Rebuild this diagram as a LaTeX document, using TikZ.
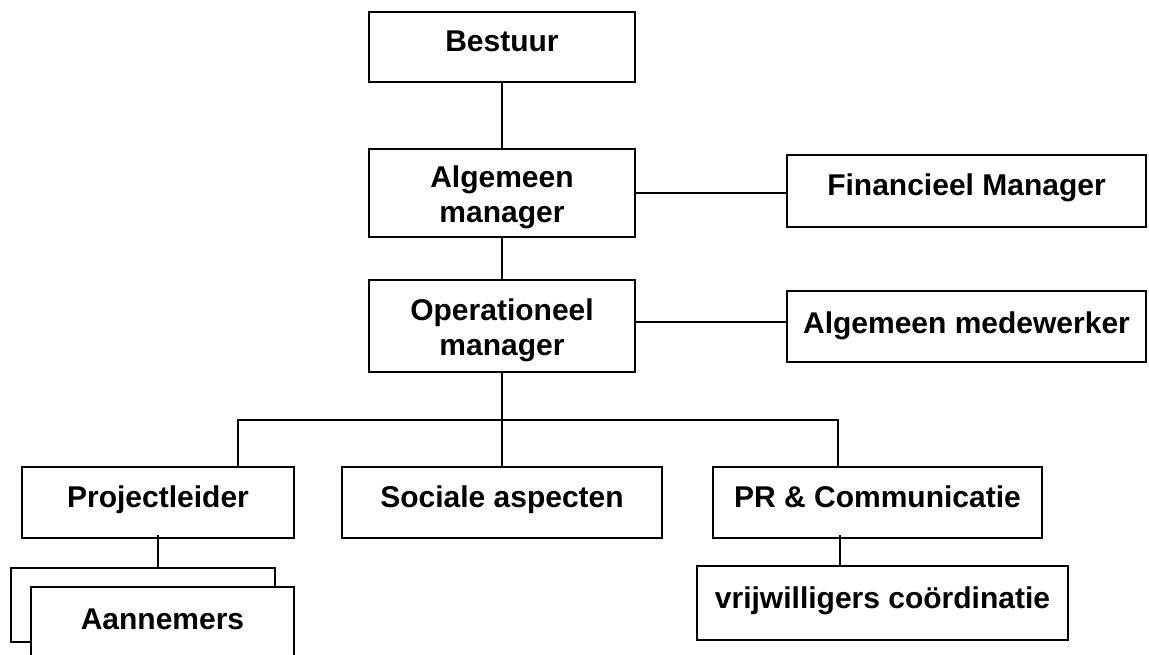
\documentclass[tikz,border=0pt]{standalone}
\usepackage{fontspec}
\setmainfont{Liberation Sans}
\begin{document}
\begin{tikzpicture}[x=1pt, y=-1pt, line width=2pt,
    box/.style={rectangle, draw, fill=white, font=\bfseries\fontsize{30}{35}\selectfont, align=center, inner sep=0pt},
    single/.style={box, text height=22pt, text depth=12pt}]

\clip (0,0) rectangle (1149,655);

% Nodes
\node [single, minimum width=266pt, minimum height=70pt] (bestuur) at (502,47) {Bestuur};
\node [box, below of=bestuur, node distance=146pt, minimum width=266pt, minimum height=88pt] (algman) {\rule{0pt}{30pt}Algemeen\\manager};
\node [box, below of=algman, node distance=133pt, minimum width=266pt, minimum height=92pt] (opman) {\rule{0pt}{30pt}Operationeel\\manager};
\node [single, right of=algman, node distance=464.5pt, yshift=2pt, minimum width=359pt, minimum height=72pt] (finman) {Financieel Manager};
\node [box, right of=opman, node distance=464.5pt, minimum width=359pt, minimum height=71pt] (medew) {Algemeen medewerker};
\node [single, below of=opman, node distance=176pt, minimum width=320pt, minimum height=71pt] (sociaal) {Sociale aspecten};
\node [single, left of=sociaal, node distance=344pt, minimum width=272pt, minimum height=71pt] (projl) {Projectleider};
\node [single, right of=sociaal, node distance=375.5pt, minimum width=329pt, minimum height=71pt] (pr) {PR \& Communicatie};
\node [single, below of=pr, node distance=101pt, xshift=5pt, minimum width=371pt, minimum height=74pt] (vrijw) {vrijwilligers coördinatie};
\node [box, minimum width=264pt, minimum height=74pt] (aannback) at (143,605) {};
\node [single, minimum width=263pt, minimum height=74pt] (aannemers) at (162.5,624) {Aannemers};

% Lines
\coordinate (bus) at (502,420);
\draw (bestuur) -- (algman);
\draw (algman) -- (opman);
\draw (algman.east) -- (algman.east -| finman.west);
\draw ([yshift=4pt]opman.east) -- ([yshift=4pt]opman.east -| medew.west);
\draw (opman) -- (sociaal);
\draw ([xshift=80pt]projl.north) |- (bus) -| ([xshift=-39.5pt]pr.north);
\draw ([yshift=4pt]projl.south) -- (projl.south |- aannback.north);
\draw ([xshift=-37.5pt,yshift=4pt]pr.south) -- ([xshift=-37.5pt]pr.south |- vrijw.north);

\end{tikzpicture}
\end{document}
